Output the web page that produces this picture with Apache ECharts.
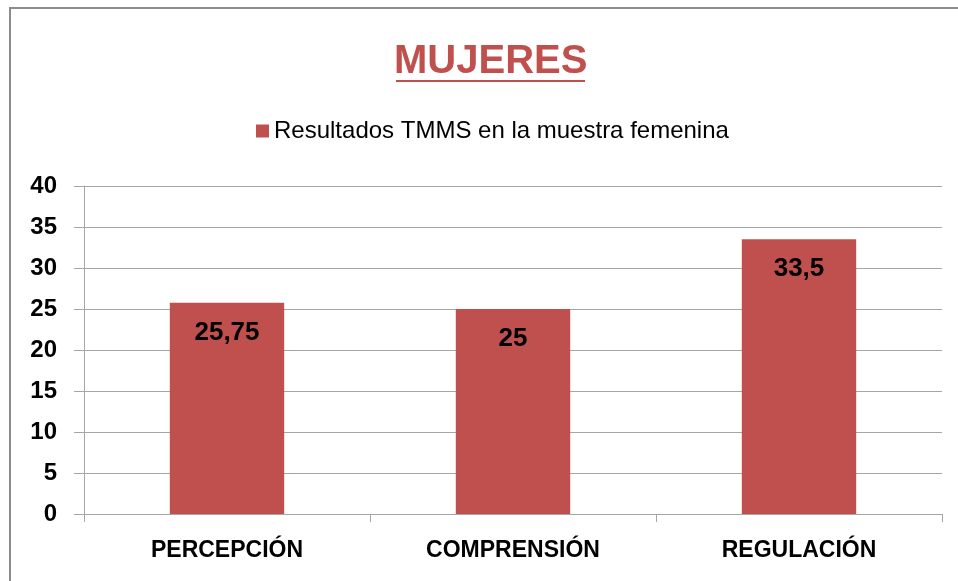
<!DOCTYPE html>
<html>
<head>
<meta charset="utf-8">
<script src="https://cdn.jsdelivr.net/npm/echarts@6/dist/echarts.min.js"></script>
<style>
  html, body { margin: 0; padding: 0; background: #fff; }
  #chart { width: 958px; height: 581px; }
</style>
</head>
<body>
<div id="chart"></div>
<script>
  // datos
  var categorias = ['PERCEPCIÓN', 'COMPRENSIÓN', 'REGULACIÓN'];
  var valores = [25.75, 25, 33.5];
  var serieNombre = 'Resultados TMMS en la muestra femenina';
  var titulo = 'MUJERES';

  var rojo = '#C0504D';
  var gris = '#A6A6A6';
  var fuente = "'Liberation Sans', sans-serif";

  var chart = echarts.init(document.getElementById('chart'));
  var option = {
    animation: false,
    title: {
      text: titulo,
      left: 394,
      top: 42,
      padding: 0,
      textStyle: { color: rojo, fontSize: 40, fontWeight: 'bold', fontFamily: fuente }
    },
    legend: {
      data: [serieNombre],
      top: 119,
      left: 256,
      padding: 0,
      icon: 'rect',
      itemWidth: 13,
      itemHeight: 13,
      itemGap: 8,
      textStyle: { color: '#000', fontSize: 24, fontFamily: fuente }
    },
    graphic: [
      // marco del gráfico
      { type: 'rect', shape: { x: 10, y: 8, width: 1000, height: 700 },
        style: { fill: 'none', stroke: '#8C8C8C', lineWidth: 2 }, silent: true },
      // subrayado del título
      { type: 'rect', shape: { x: 396, y: 80, width: 189, height: 2 },
        style: { fill: rojo }, silent: true }
    ],
    grid: { left: 84, right: 16, top: 186, bottom: 67 },
    xAxis: {
      type: 'category',
      data: categorias,
      axisLine: { lineStyle: { color: gris, width: 1 } },
      axisTick: { show: true, length: 8, lineStyle: { color: gris } },
      axisLabel: { color: '#000', fontSize: 23, fontWeight: 'bold', fontFamily: fuente, margin: 25 }
    },
    yAxis: {
      type: 'value',
      min: 0,
      max: 40,
      interval: 5,
      axisLine: { show: true, lineStyle: { color: gris, width: 1 } },
      axisTick: { show: true, length: 10, lineStyle: { color: gris } },
      splitLine: { lineStyle: { color: gris, width: 1 } },
      axisLabel: { color: '#000', fontSize: 24, fontWeight: 'bold', fontFamily: fuente, margin: 27 }
    },
    series: [{
      name: serieNombre,
      type: 'bar',
      data: valores,
      barWidth: '40%',
      itemStyle: { color: rojo },
      label: {
        show: true,
        position: 'insideTop',
        distance: 17,
        color: '#000',
        fontSize: 26,
        fontWeight: 'bold',
        fontFamily: fuente,
        formatter: function (p) { return String(p.value).replace('.', ','); }
      }
    }]
  };
  chart.setOption(option);
</script>
</body>
</html>
